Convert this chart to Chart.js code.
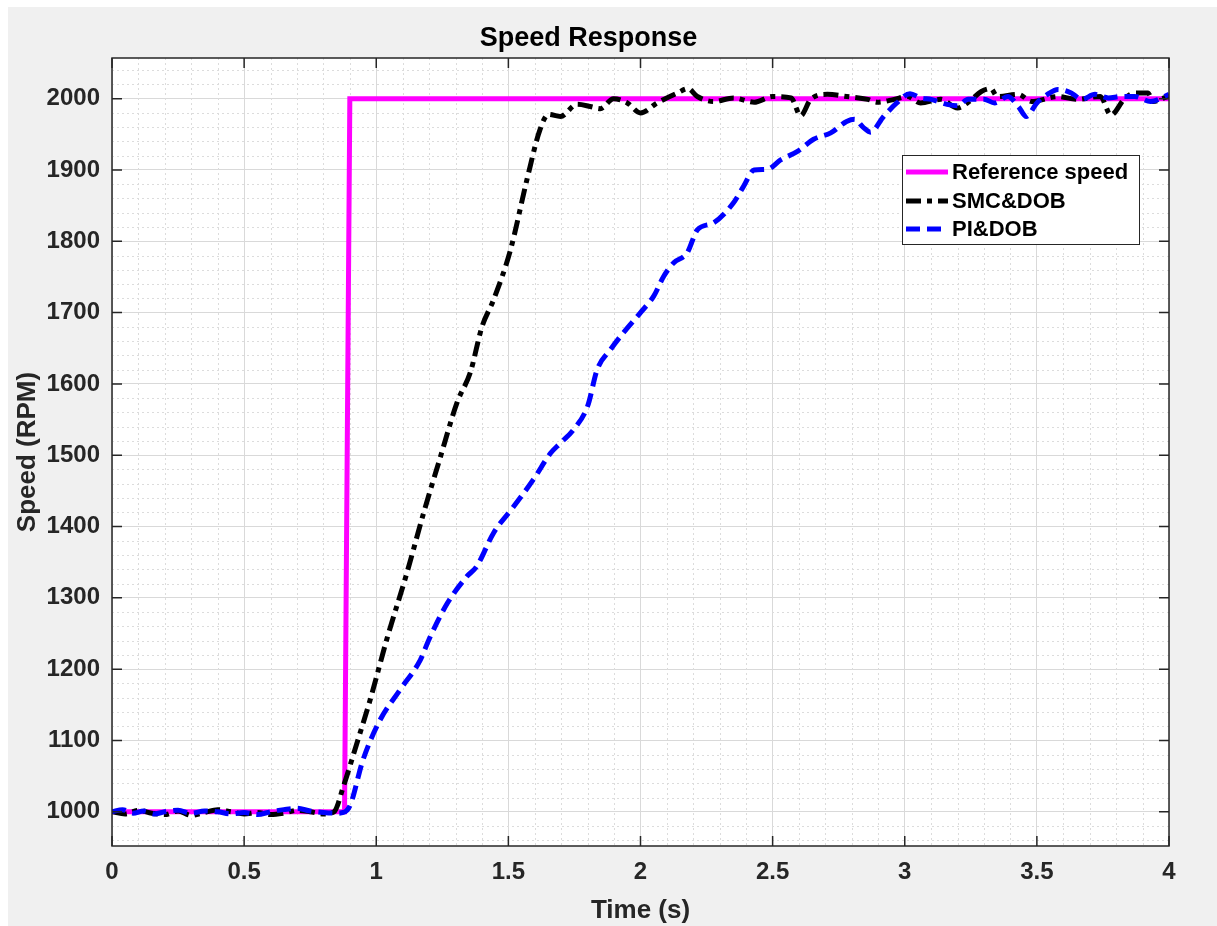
<!doctype html>
<html>

<head>
    <title>Speed Response</title>
    <script src="https://cdn.jsdelivr.net/npm/chart.js@4.4.1/dist/chart.umd.min.js"></script>
    <style>
    html, body {
        margin: 0;
        padding: 0;
        background: #ffffff;
    }
    #wrap {
        width: 1217px;
        height: 926px;
    }
    </style>
</head>

<body>
    <div id="wrap">
        <canvas id="canvas" width="1217" height="926"></canvas>
    </div>
    <script>
    // data
    var refTime  = [0, 0.88, 0.9, 4];
    var refSpeed = [1000, 1000, 2000, 2000];

    var smcTime  = [0, 0.05, 0.1, 0.15, 0.2, 0.25, 0.3, 0.35, 0.4, 0.45, 0.5, 0.55, 0.6, 0.65, 0.7, 0.75, 0.8, 0.84,
                    0.876, 0.93, 0.977, 1.04, 1.116, 1.18, 1.24, 1.306, 1.356, 1.4, 1.444, 1.508, 1.57, 1.62, 1.652, 1.697,
                    1.76, 1.81, 1.848, 1.898, 1.95, 2.0, 2.063, 2.14, 2.18, 2.215, 2.277, 2.352, 2.43, 2.5, 2.57, 2.606,
                    2.644, 2.707, 2.78, 2.86, 2.896, 2.96, 3.01, 3.06, 3.136, 3.2, 3.237, 3.29, 3.326, 3.35, 3.43, 3.48,
                    3.58, 3.65, 3.74, 3.78, 3.83, 3.87, 3.92, 3.94, 4.0];
    var smcSpeed = [1000, 997, 1002, 998, 996, 1001, 995, 999, 1003, 1000, 997, 999, 996, 998, 1002, 1000, 997, 1000,
                    1036, 1100, 1157, 1242, 1335, 1420, 1494, 1574, 1616, 1680, 1718, 1788, 1886, 1957, 1978, 1975,
                    1992, 1989, 1986, 2000, 1994, 1980, 1994, 2008, 2014, 2003, 1996, 2001, 1995, 2003, 2001, 1976,
                    1999, 2006, 2003, 1999, 1995, 1999, 2003, 1994, 1999, 1987, 1994, 2010, 2014, 2003, 2006, 1996,
                    2003, 1999, 2003, 1977, 1999, 2008, 2008, 1996, 2004];

    var piTime  = [0, 0.04, 0.08, 0.12, 0.16, 0.2, 0.25, 0.3, 0.35, 0.4, 0.45, 0.5, 0.55, 0.6, 0.65, 0.7, 0.75, 0.8, 0.85,
                   0.876, 0.9, 0.95, 1.015, 1.09, 1.167, 1.2, 1.27, 1.343, 1.38, 1.444, 1.52, 1.595, 1.66, 1.697, 1.747,
                   1.8, 1.836, 1.886, 1.936, 2.0, 2.05, 2.088, 2.126, 2.177, 2.215, 2.277, 2.352, 2.39, 2.43, 2.48, 2.53,
                   2.594, 2.655, 2.72, 2.78, 2.81, 2.845, 2.87, 2.92, 2.97, 3.02, 3.06, 3.1, 3.16, 3.2, 3.24, 3.3, 3.34,
                   3.39, 3.43, 3.46, 3.5, 3.54, 3.58, 3.63, 3.67, 3.72, 3.77, 3.82, 3.87, 3.93, 4.0];
    var piSpeed = [1000, 1003, 998, 1001, 997, 1000, 1002, 998, 1001, 1000, 997, 999, 996, 1000, 1003, 1005, 1001, 999, 998,
                   999, 1008, 1073, 1129, 1171, 1213, 1242, 1293, 1330, 1344, 1391, 1428, 1466, 1503, 1517, 1536,
                   1569, 1620, 1648, 1672, 1700, 1723, 1751, 1770, 1784, 1816, 1826, 1854, 1877, 1900, 1901, 1914,
                   1926, 1943, 1952, 1968, 1971, 1959, 1953, 1975, 1994, 2007, 2001, 1999, 1992, 1990, 1999, 1999, 1994,
                   2003, 1989, 1975, 1994, 2006, 2013, 2008, 1999, 2006, 2001, 2003, 2003, 1996, 2006];

    var seriesNames = ['Reference speed', 'SMC&DOB', 'PI&DOB'];
    var xTicks = [0, 0.5, 1, 1.5, 2, 2.5, 3, 3.5, 4];
    var yTicks = [1000, 1100, 1200, 1300, 1400, 1500, 1600, 1700, 1800, 1900, 2000];

    var axisColor = '#262626';
    var fontFamily = "'Liberation Sans', Arial, sans-serif";

    var toPoints = function(ts, vs) {
        return ts.map(function(t, i) {
            return { x: t, y: vs[i] };
        });
    };

    // grey figure background, white axes
    var backgroundPlugin = {
        id: 'figureBackground',
        beforeDraw: function(chart) {
            var ctx = chart.ctx;
            var a = chart.chartArea;
            ctx.save();
            ctx.fillStyle = '#ffffff';
            ctx.fillRect(0, 0, chart.width, chart.height);
            ctx.fillStyle = '#f0f0f0';
            ctx.fillRect(8, 7, chart.width - 8, chart.height - 7);
            ctx.fillStyle = '#ffffff';
            ctx.fillRect(a.left, a.top, a.right - a.left, a.bottom - a.top);
            ctx.restore();
        }
    };

    // dotted minor grid (0.1 s, 20 rpm)
    var minorGridPlugin = {
        id: 'minorGrid',
        beforeDatasetsDraw: function(chart) {
            var ctx = chart.ctx;
            var a = chart.chartArea;
            var xs = chart.scales.x, ys = chart.scales.y;
            ctx.save();
            ctx.strokeStyle = '#dcdcdc';
            ctx.lineWidth = 1;
            ctx.setLineDash([2, 3]);
            for (var i = 0; i <= 40; i++) {
                if (i % 5 === 0) continue;
                var px = Math.round(xs.getPixelForValue(i / 10)) + 0.5;
                ctx.beginPath();
                ctx.moveTo(px, a.top);
                ctx.lineTo(px, a.bottom);
                ctx.stroke();
            }
            for (var v = 960; v <= 2050; v += 20) {
                if (v % 100 === 0) continue;
                var py = Math.round(ys.getPixelForValue(v)) + 0.5;
                ctx.beginPath();
                ctx.moveTo(a.left, py);
                ctx.lineTo(a.right, py);
                ctx.stroke();
            }
            ctx.restore();
        }
    };

    // box and inward ticks like the original figure
    var boxPlugin = {
        id: 'axesBox',
        afterDatasetsDraw: function(chart) {
            var ctx = chart.ctx;
            var a = chart.chartArea;
            var xs = chart.scales.x, ys = chart.scales.y;
            ctx.save();
            ctx.strokeStyle = axisColor;
            ctx.lineWidth = 1.5;
            ctx.setLineDash([]);
            ctx.strokeRect(a.left, a.top, a.right - a.left, a.bottom - a.top);
            ctx.beginPath();
            xTicks.forEach(function(t) {
                var px = xs.getPixelForValue(t);
                ctx.moveTo(px, a.bottom);
                ctx.lineTo(px, a.bottom - 10);
                ctx.moveTo(px, a.top);
                ctx.lineTo(px, a.top + 10);
            });
            yTicks.forEach(function(v) {
                var py = ys.getPixelForValue(v);
                ctx.moveTo(a.left, py);
                ctx.lineTo(a.left + 10, py);
                ctx.moveTo(a.right, py);
                ctx.lineTo(a.right - 10, py);
            });
            ctx.stroke();
            ctx.restore();
        }
    };

    // legend box in the upper right of the axes
    var legendPlugin = {
        id: 'boxLegend',
        afterDraw: function(chart) {
            var ctx = chart.ctx;
            var boxX = 902, boxY = 155, boxW = 237, boxH = 89;
            var rows = [172, 201, 229];
            ctx.save();
            ctx.fillStyle = '#ffffff';
            ctx.fillRect(boxX, boxY, boxW, boxH);
            ctx.strokeStyle = axisColor;
            ctx.lineWidth = 1;
            ctx.strokeRect(boxX + 0.5, boxY + 0.5, boxW, boxH);
            chart.data.datasets.forEach(function(ds, i) {
                ctx.strokeStyle = ds.borderColor;
                ctx.lineWidth = ds.borderWidth;
                ctx.setLineDash(ds.borderDash || []);
                ctx.beginPath();
                ctx.moveTo(906, rows[i]);
                ctx.lineTo(948, rows[i]);
                ctx.stroke();
                ctx.setLineDash([]);
                ctx.fillStyle = '#000000';
                ctx.font = 'bold 22px ' + fontFamily;
                ctx.textAlign = 'left';
                ctx.textBaseline = 'middle';
                ctx.fillText(ds.label, 952, rows[i] + 1);
            });
            ctx.restore();
        }
    };

    var config = {
        type: 'scatter',
        data: {
            datasets: [{
                label: seriesNames[0],
                data: toPoints(refTime, refSpeed),
                borderColor: '#ff00ff',
                backgroundColor: '#ff00ff',
                borderWidth: 5,
                showLine: true,
                pointRadius: 0,
                order: 3
            }, {
                label: seriesNames[1],
                data: toPoints(smcTime, smcSpeed),
                borderColor: '#000000',
                backgroundColor: '#000000',
                borderWidth: 5,
                borderDash: [15, 6, 5, 6],
                borderJoinStyle: 'round',
                showLine: true,
                pointRadius: 0,
                cubicInterpolationMode: 'monotone',
                order: 2
            }, {
                label: seriesNames[2],
                data: toPoints(piTime, piSpeed),
                borderColor: '#0000ff',
                backgroundColor: '#0000ff',
                borderWidth: 5,
                borderDash: [14, 7],
                borderJoinStyle: 'round',
                showLine: true,
                pointRadius: 0,
                cubicInterpolationMode: 'monotone',
                order: 1
            }]
        },
        options: {
            responsive: false,
            animation: false,
            layout: {
                padding: { left: 8, top: 7, right: 48, bottom: 0 }
            },
            plugins: {
                legend: { display: false },
                tooltip: { enabled: false },
                title: {
                    display: true,
                    text: 'Speed Response',
                    color: '#000000',
                    font: { family: fontFamily, size: 27, weight: 'bold' },
                    padding: { top: 15, bottom: 3.6 }
                }
            },
            scales: {
                x: {
                    type: 'linear',
                    min: 0,
                    max: 4,
                    afterFit: function(scale) {
                        scale.height = 80;
                    },
                    afterBuildTicks: function(scale) {
                        scale.ticks = xTicks.map(function(v) { return { value: v }; });
                    },
                    ticks: {
                        color: axisColor,
                        padding: 12,
                        maxRotation: 0,
                        font: { family: fontFamily, size: 24, weight: 'bold' },
                        callback: function(v) { return String(v); }
                    },
                    grid: {
                        color: '#d9d9d9',
                        lineWidth: 1,
                        drawTicks: false
                    },
                    border: { display: false },
                    title: {
                        display: true,
                        text: 'Time (s)',
                        color: axisColor,
                        font: { family: fontFamily, size: 26, weight: 'bold' },
                        padding: { top: 0, bottom: 0 }
                    }
                },
                y: {
                    type: 'linear',
                    min: 952,
                    max: 2057,
                    afterFit: function(scale) {
                        scale.width = 104;
                    },
                    afterBuildTicks: function(scale) {
                        scale.ticks = yTicks.map(function(v) { return { value: v }; });
                    },
                    ticks: {
                        color: axisColor,
                        padding: 12,
                        font: { family: fontFamily, size: 24, weight: 'bold' },
                        callback: function(v) { return String(v); }
                    },
                    grid: {
                        color: '#d9d9d9',
                        lineWidth: 1,
                        drawTicks: false
                    },
                    border: { display: false },
                    title: {
                        display: true,
                        text: 'Speed (RPM)',
                        color: axisColor,
                        font: { family: fontFamily, size: 26, weight: 'bold' },
                        padding: { top: 4, bottom: 0 }
                    }
                }
            }
        },
        plugins: [backgroundPlugin, minorGridPlugin, boxPlugin, legendPlugin]
    };

    window.onload = function() {
        window.speedChart = new Chart(document.getElementById('canvas'), config);
    };
    </script>
</body>

</html>
